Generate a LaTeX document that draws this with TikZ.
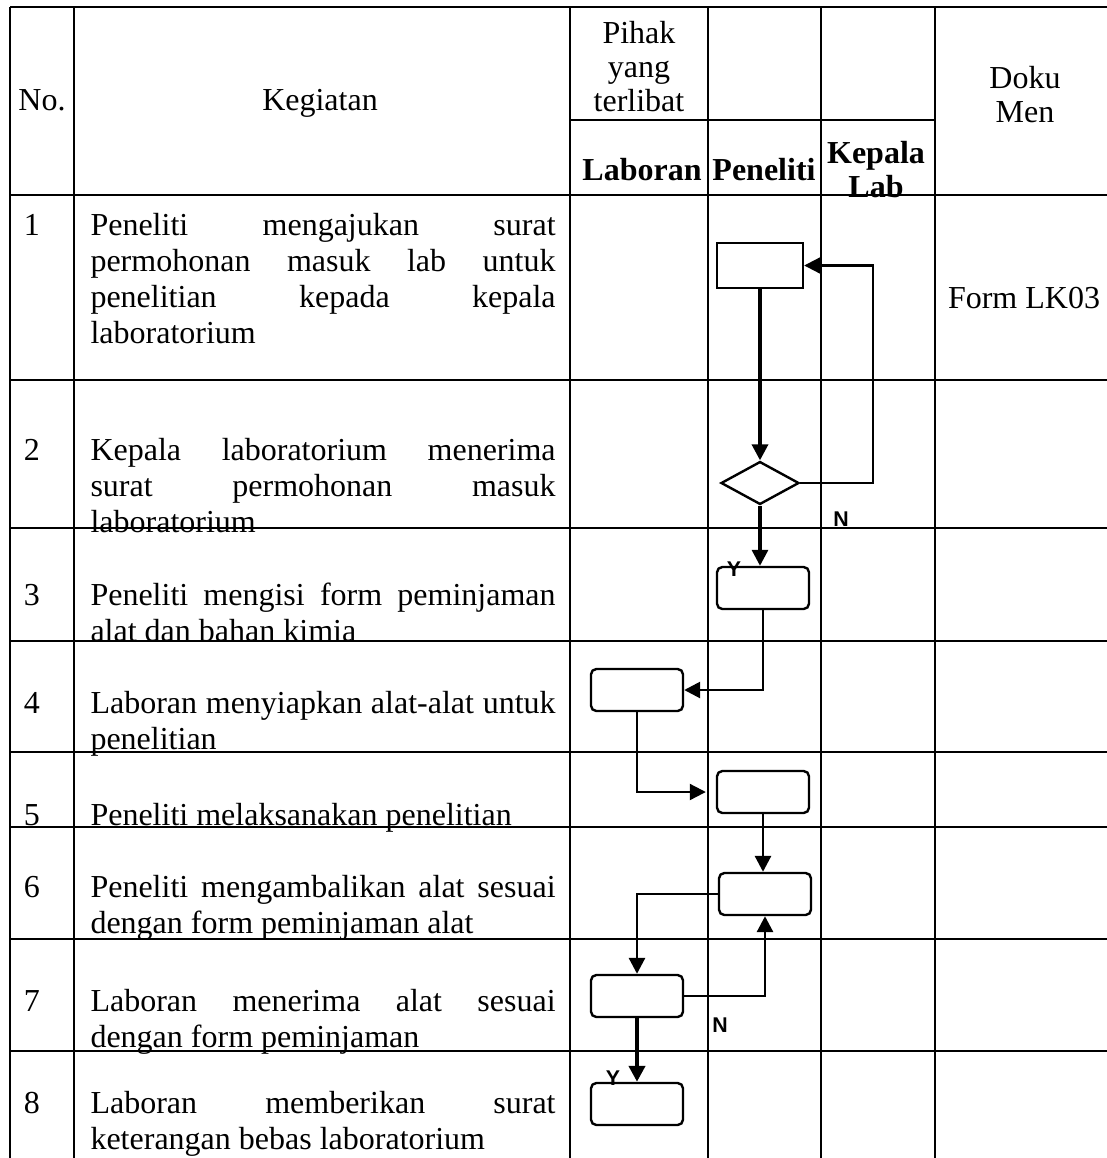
\documentclass[tikz,border=0pt]{standalone}
\usepackage{fontspec}
\setmainfont{Liberation Serif}
\newfontfamily\labelfont{Liberation Sans}
\usetikzlibrary{positioning,arrows.meta,shapes.geometric}

\begin{document}
\begin{tikzpicture}[
  x=0.375pt,y=-0.375pt,
  grid/.style={line width=0.75pt},
  txt/.style={anchor=north west,inner sep=0pt,text width=174.4pt,align=justify,font=\fontsize{12}{13.5}\selectfont},
  num/.style={anchor=base,inner sep=0pt,font=\fontsize{12}{13.5}\selectfont},
  head/.style={anchor=base,inner sep=0pt,font=\fontsize{12}{12.75}\selectfont},
  headml/.style={head,anchor=north,align=center},
  proc/.style={rectangle,draw,line width=0.9pt,rounded corners=2pt,minimum width=34.5pt,minimum height=15.75pt,inner sep=0pt},
  start/.style={rectangle,draw,line width=0.9pt,minimum width=32.25pt,minimum height=16.9pt,inner sep=0pt},
  cond/.style={diamond,draw,line width=0.9pt,minimum width=29.25pt,minimum height=16.1pt,inner sep=0pt},
  lab/.style={inner sep=0pt,font=\labelfont\bfseries\fontsize{8}{9.6}\selectfont},
  arr/.style={-{Triangle[length=6pt 0,width=6pt 0]},line width=0.8pt}
]
\useasboundingbox (0,0) rectangle (1107,1158);

% table
\draw[grid] (10,7) -- (1107,7);
\draw[grid] (570,120) -- (935,120);
\draw[grid] (10,195) -- (1107,195);
\draw[grid] (10,380) -- (1107,380);
\draw[grid] (10,528) -- (1107,528);
\draw[grid] (10,641) -- (1107,641);
\draw[grid] (10,752) -- (1107,752);
\draw[grid] (10,827) -- (1107,827);
\draw[grid] (10,939) -- (1107,939);
\draw[grid] (10,1051) -- (1107,1051);
\draw[grid] (10,7) -- (10,1158);
\draw[grid] (74,7) -- (74,1158);
\draw[grid] (570,7) -- (570,1158);
\draw[grid] (708,7) -- (708,1158);
\draw[grid] (821,7) -- (821,1158);
\draw[grid] (935,7) -- (935,1158);

% header
\node[head] (hno) at (42,110) {No.};
\node[head] (hkeg) at (320,110) {Kegiatan};
\node[headml] (hpihak) at (639,19.2) {\strut Pihak\\yang\\terlibat};
\node[headml] (hdok) at (1025,64.2) {\strut Doku\\Men};
\node[head,font=\fontsize{12}{12.75}\selectfont\bfseries] (hlab) at (642,180) {Laboran};
\node[head,font=\fontsize{12}{12.75}\selectfont\bfseries] (hpen) at (764,180) {Peneliti};
\node[headml,font=\fontsize{12}{12.75}\selectfont\bfseries] (hkep) at (876,139.2) {\strut Kepala\\Lab};

% kegiatan
\node[num] (n1) at (32,235) {1};
\node[txt] (k1) at (90,209.8) {\strut Peneliti mengajukan surat\linebreak permohonan masuk lab untuk\linebreak penelitian kepada kepala\linebreak laboratorium};
\node[num] (n2) at (32,460) {2};
\node[txt] (k2) at (90,434.8) {\strut Kepala laboratorium menerima\linebreak surat permohonan masuk\linebreak laboratorium};
\node[num] (n3) at (32,605) {3};
\node[txt] (k3) at (90,579.8) {\strut Peneliti mengisi form peminjaman\linebreak alat dan bahan kimia};
\node[num] (n4) at (32,713) {4};
\node[txt] (k4) at (90,687.8) {\strut Laboran menyiapkan alat-alat untuk\linebreak penelitian};
\node[num] (n5) at (32,825) {5};
\node[txt] (k5) at (90,799.8) {\strut Peneliti melaksanakan penelitian};
\node[num] (n6) at (32,897) {6};
\node[txt] (k6) at (90,871.8) {\strut Peneliti mengambalikan alat sesuai\linebreak dengan form peminjaman alat};
\node[num] (n7) at (32,1011) {7};
\node[txt] (k7) at (90,985.8) {\strut Laboran menerima alat sesuai\linebreak dengan form peminjaman};
\node[num] (n8) at (32,1113) {8};
\node[txt] (k8) at (90,1087.8) {\strut Laboran memberikan surat\linebreak keterangan bebas laboratorium};

\node[num] (dok1) at (1024,308) {Form LK03};

% alur
\node[start] (ajukan) at (760,265.5) {};
\node[cond] (cek) at (760,483) {};
\node[proc] (isi) at (763,588) {};
\node[proc] (siap) at (637,690) {};
\node[proc] (teliti) at (763,792) {};
\node[proc] (kembali) at (765,894) {};
\node[proc] (terima) at (637,996) {};
\node[proc] (bebas) at (637,1104) {};
\coordinate (loopx) at (873,380);

\draw[arr,line width=1.3pt] (ajukan) -- (cek);
\draw[arr] (cek.east) -| (loopx) |- (ajukan.east);
\draw[arr,line width=1.2pt] (cek.south) -- (cek.south |- isi.north);
\draw[arr,line width=1pt] (isi.south) |- (siap.east);
\draw[arr,shorten >=3.75pt] (siap.south) |- (teliti.west);
\draw[arr,line width=1.1pt] (teliti.south) -- (teliti.south |- kembali.north);
\draw[arr,line width=1.1pt] (kembali.west) -| (terima.north);
\draw[arr,line width=1.1pt] (terima.east) -| (kembali.south);
\draw[arr,line width=1.5pt] (terima) -- (bebas);

\node[lab] (ncek) at (841,519) {N};
\node[lab] (yisi) at (734,569) {Y};
\node[lab] (nterima) at (720,1025) {N};
\node[lab] (ybebas) at (613,1078) {Y};
\end{tikzpicture}
\end{document}
